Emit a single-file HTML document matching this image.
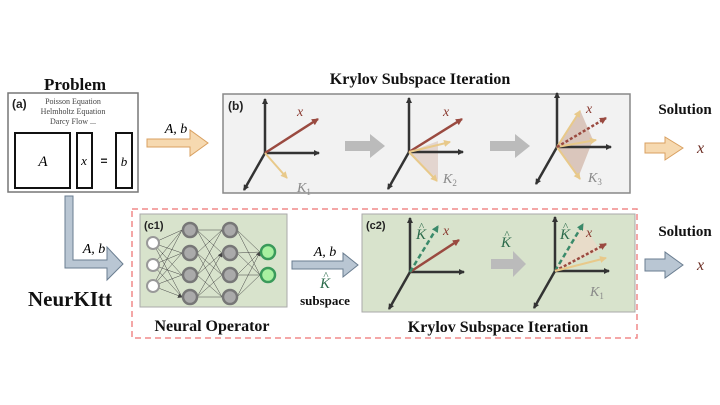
<!DOCTYPE html>
<html><head><style>
body{margin:0;background:#fff;}
svg{display:block;}
.t{font-family:"Liberation Serif",serif;font-weight:bold;fill:#111;}
.m{font-family:"Liberation Serif",serif;font-style:italic;}
.s{font-family:"Liberation Sans",sans-serif;font-weight:bold;fill:#222;}
</style></head><body>
<svg width="720" height="405" viewBox="0 0 720 405" xmlns="http://www.w3.org/2000/svg">
<defs>
<marker id="ak" markerWidth="6" markerHeight="6" refX="5" refY="3" orient="auto" markerUnits="userSpaceOnUse"><path d="M0,0 L6,3 L0,6z" fill="#333"/></marker>
<marker id="ar" markerWidth="7" markerHeight="7" refX="6" refY="3.5" orient="auto" markerUnits="userSpaceOnUse"><path d="M0,0 L7,3.5 L0,7z" fill="#9a4a40"/></marker>
<marker id="ay" markerWidth="7" markerHeight="7" refX="6" refY="3.5" orient="auto" markerUnits="userSpaceOnUse"><path d="M0,0 L7,3.5 L0,7z" fill="#e8c98a"/></marker>
<marker id="ag" markerWidth="7" markerHeight="7" refX="6" refY="3.5" orient="auto" markerUnits="userSpaceOnUse"><path d="M0,0 L7,3.5 L0,7z" fill="#3a8a6a"/></marker>
<marker id="an" markerWidth="5" markerHeight="5" refX="4" refY="2.5" orient="auto" markerUnits="userSpaceOnUse"><path d="M0,0 L5,2.5 L0,5z" fill="#444"/></marker>
<g id="axes">
<line x1="0" y1="0" x2="0" y2="-54" stroke="#333" stroke-width="2.5" marker-end="url(#ak)"/>
<line x1="0" y1="0" x2="54" y2="0" stroke="#333" stroke-width="2.5" marker-end="url(#ak)"/>
<line x1="0" y1="0" x2="-21" y2="37" stroke="#333" stroke-width="2.5" marker-end="url(#ak)"/>
</g>
</defs>

<!-- Problem -->
<text x="75" y="90" class="t" font-size="17" text-anchor="middle">Problem</text>
<rect x="8" y="93" width="130" height="99" fill="#fff" stroke="#777" stroke-width="1.5"/>
<text x="12" y="108" class="s" font-size="12">(a)</text>
<g font-family="Liberation Serif,serif" font-size="8" fill="#444" text-anchor="middle">
<text x="73" y="104">Poisson Equation</text><text x="73" y="114">Helmholtz Equation</text><text x="73" y="124">Darcy Flow ...</text></g>
<rect x="15" y="133" width="55" height="55" fill="#fff" stroke="#111" stroke-width="2"/>
<rect x="77" y="133" width="15" height="55" fill="#fff" stroke="#111" stroke-width="2"/>
<rect x="116" y="133" width="16" height="55" fill="#fff" stroke="#111" stroke-width="2"/>
<text x="43" y="166" class="m" font-size="15" text-anchor="middle">A</text>
<text x="84" y="165" class="m" font-size="13" text-anchor="middle">x</text>
<text x="104" y="165" class="s" font-size="12" text-anchor="middle">=</text>
<text x="124" y="166" class="m" font-size="13" text-anchor="middle">b</text>

<!-- orange arrow -->
<path d="M147,139 L190,139 L190,130 L208,143 L190,156 L190,147 L147,147z" fill="#f6d9b0" stroke="#d9a060" stroke-width="1"/>
<text x="176" y="133" class="m" font-size="14" text-anchor="middle">A, b</text>

<!-- Krylov b -->
<text x="420" y="84" class="t" font-size="16" text-anchor="middle">Krylov Subspace Iteration</text>
<rect x="223" y="94" width="407" height="99" fill="#f2f2f2" stroke="#888" stroke-width="1.5"/>
<text x="228" y="110" class="s" font-size="12">(b)</text>
<use href="#axes" x="265" y="153"/>
<line x1="265" y1="153" x2="318" y2="119" stroke="#9a4a40" stroke-width="2.5" marker-end="url(#ar)"/>
<line x1="265" y1="153" x2="287" y2="178" stroke="#e8c98a" stroke-width="2" marker-end="url(#ay)"/>
<text x="297" y="116" class="m" font-size="14" fill="#8a3a30">x</text>
<text x="297" y="192" class="m" font-size="14" fill="#888">K<tspan font-size="9" dy="3" font-style="normal">1</tspan></text>
<path d="M345,141 L370,141 L370,134 L385,146 L370,158 L370,151 L345,151z" fill="#bbb"/>
<polygon points="409,152 438,141 438,180" fill="#d9c2b8" opacity="0.6"/>
<use href="#axes" x="409" y="152"/>
<line x1="409" y1="152" x2="462" y2="119" stroke="#9a4a40" stroke-width="2.5" marker-end="url(#ar)"/>
<line x1="409" y1="152" x2="450" y2="142" stroke="#e8c98a" stroke-width="2" marker-end="url(#ay)"/>
<line x1="409" y1="152" x2="437" y2="181" stroke="#e8c98a" stroke-width="2" marker-end="url(#ay)"/>
<text x="443" y="116" class="m" font-size="14" fill="#8a3a30">x</text>
<text x="443" y="183" class="m" font-size="14" fill="#888">K<tspan font-size="9" dy="3" font-style="normal">2</tspan></text>
<path d="M490,141 L515,141 L515,134 L530,146 L515,158 L515,151 L490,151z" fill="#bbb"/>
<polygon points="557,147 580,110 593,140 578,178" fill="#c9a898" opacity="0.6"/>
<use href="#axes" x="557" y="147"/>
<line x1="557" y1="147" x2="580" y2="111" stroke="#e8c98a" stroke-width="2" marker-end="url(#ay)"/>
<line x1="557" y1="147" x2="596" y2="140" stroke="#e8c98a" stroke-width="2" marker-end="url(#ay)"/>
<line x1="557" y1="147" x2="580" y2="179" stroke="#e8c98a" stroke-width="2" marker-end="url(#ay)"/>
<line x1="557" y1="147" x2="606" y2="118" stroke="#9a4a40" stroke-width="2.5" stroke-dasharray="3,2" marker-end="url(#ar)"/>
<text x="586" y="113" class="m" font-size="14" fill="#8a3a30">x</text>
<text x="588" y="182" class="m" font-size="14" fill="#888">K<tspan font-size="9" dy="3" font-style="normal">3</tspan></text>

<text x="685" y="114" class="t" font-size="15" text-anchor="middle">Solution</text>
<path d="M645,143 L665,143 L665,137 L683,148 L665,160 L665,153 L645,153z" fill="#f6d9b0" stroke="#d9a060" stroke-width="1"/>
<text x="697" y="153" class="m" font-size="16" fill="#6a2a20">x</text>

<!-- down arrow -->
<path d="M65,196 L73,196 L73,260 L107,260 L107,247 L123,264 L107,280 L107,268 L65,268z" fill="#b9c6d3" stroke="#6a7d90" stroke-width="1"/>
<text x="94" y="253" class="m" font-size="14" text-anchor="middle">A, b</text>
<text x="70" y="306" class="t" font-size="21" text-anchor="middle">NeurKItt</text>

<!-- dashed box -->
<rect x="132" y="209" width="505" height="129" fill="none" stroke="#f08a8a" stroke-width="1.5" stroke-dasharray="6,4"/>
<rect x="140" y="214" width="147" height="93" fill="#d8e3cc" stroke="#aaa" stroke-width="1"/>
<text x="144" y="229" class="s" font-size="11">(c1)</text>
<g stroke="#444" stroke-width="0.5" marker-end="url(#an)">
<path d="M153,243 L182,230 M153,243 L182,253 M153,243 L182,275 M153,243 L182,297 M153,265 L182,230 M153,265 L182,253 M153,265 L182,275 M153,265 L182,297 M153,286 L182,230 M153,286 L182,253 M153,286 L182,275 M153,286 L182,297"/>
<path d="M197,230 L222,230 M197,230 L222,253 M197,230 L222,275 M197,253 L222,230 M197,253 L222,275 M197,253 L222,297 M197,275 L222,253 M197,275 L222,297 M197,275 L222,230 M197,297 L222,297 M197,297 L222,275 M197,297 L222,253"/>
<path d="M237,230 L260,252 M237,253 L260,252 M237,253 L260,275 M237,275 L260,252 M237,275 L260,275 M237,297 L260,275 M237,230 L260,275 M237,297 L260,252"/>
</g>
<g stroke="#999" stroke-width="2" fill="#fff"><circle cx="153" cy="243" r="6"/><circle cx="153" cy="265" r="6"/><circle cx="153" cy="286" r="6"/></g>
<g stroke="#777" stroke-width="2.5" fill="#aaa"><circle cx="190" cy="230" r="7"/><circle cx="190" cy="253" r="7"/><circle cx="190" cy="275" r="7"/><circle cx="190" cy="297" r="7"/>
<circle cx="230" cy="230" r="7"/><circle cx="230" cy="253" r="7"/><circle cx="230" cy="275" r="7"/><circle cx="230" cy="297" r="7"/></g>
<g stroke="#3a9a5a" stroke-width="2.5" fill="#a8f0a0"><circle cx="268" cy="252" r="7"/><circle cx="268" cy="275" r="7"/></g>
<text x="212" y="331" class="t" font-size="16" text-anchor="middle">Neural Operator</text>

<!-- middle arrow -->
<path d="M292,261 L343,261 L343,253 L358,265 L343,277 L343,269 L292,269z" fill="#b9c6d3" stroke="#6a7d90" stroke-width="1"/>
<text x="325" y="256" class="m" font-size="14" text-anchor="middle">A, b</text>
<text x="325" y="288" class="m" font-size="15" fill="#2a6a4a" text-anchor="middle">K</text>
<text x="326" y="279" font-family="Liberation Serif,serif" font-size="11" fill="#2a6a4a" text-anchor="middle">^</text>
<text x="325" y="305" class="t" font-size="13" fill="#2a6a4a" text-anchor="middle">subspace</text>

<!-- c2 -->
<rect x="362" y="214" width="273" height="98" fill="#d8e3cc" stroke="#aaa" stroke-width="1"/>
<text x="366" y="229" class="s" font-size="11">(c2)</text>
<use href="#axes" x="410" y="272"/>
<line x1="410" y1="272" x2="459" y2="240" stroke="#9a4a40" stroke-width="2.5" marker-end="url(#ar)"/>
<line x1="410" y1="272" x2="438" y2="226" stroke="#3a8a6a" stroke-width="2.5" stroke-dasharray="5,3" marker-end="url(#ag)"/>
<text x="416" y="239" class="m" font-size="15" fill="#2a6a4a">K</text>
<text x="419" y="230" font-family="Liberation Serif,serif" font-size="11" fill="#2a6a4a">^</text>
<text x="443" y="235" class="m" font-size="14" fill="#8a3a30">x</text>
<path d="M491,259 L513,259 L513,251 L526,264 L513,277 L513,269 L491,269z" fill="#bbb"/>
<text x="506" y="247" class="m" font-size="15" fill="#2a6a4a" text-anchor="middle">K</text>
<text x="507" y="238" font-family="Liberation Serif,serif" font-size="11" fill="#2a6a4a" text-anchor="middle">^</text>
<polygon points="555,271 582,223 600,250" fill="#f0d8c8" opacity="0.7"/>
<use href="#axes" x="555" y="271"/>
<line x1="555" y1="271" x2="583" y2="224" stroke="#3a8a6a" stroke-width="2.5" stroke-dasharray="5,3" marker-end="url(#ag)"/>
<line x1="555" y1="271" x2="606" y2="244" stroke="#9a4a40" stroke-width="2.5" stroke-dasharray="3,2" marker-end="url(#ar)"/>
<line x1="555" y1="271" x2="606" y2="258" stroke="#e8c98a" stroke-width="2" marker-end="url(#ay)"/>
<text x="560" y="239" class="m" font-size="15" fill="#2a6a4a">K</text>
<text x="563" y="230" font-family="Liberation Serif,serif" font-size="11" fill="#2a6a4a">^</text>
<text x="586" y="237" class="m" font-size="14" fill="#8a3a30">x</text>
<text x="590" y="296" class="m" font-size="14" fill="#888">K<tspan font-size="9" dy="3" font-style="normal">1</tspan></text>
<text x="498" y="332" class="t" font-size="16" text-anchor="middle">Krylov Subspace Iteration</text>

<text x="685" y="236" class="t" font-size="15" text-anchor="middle">Solution</text>
<path d="M645,259 L665,259 L665,252 L683,265 L665,278 L665,271 L645,271z" fill="#b9c6d3" stroke="#6a7d90" stroke-width="1"/>
<text x="697" y="270" class="m" font-size="16" fill="#6a2a20">x</text>
</svg>
</body></html>
